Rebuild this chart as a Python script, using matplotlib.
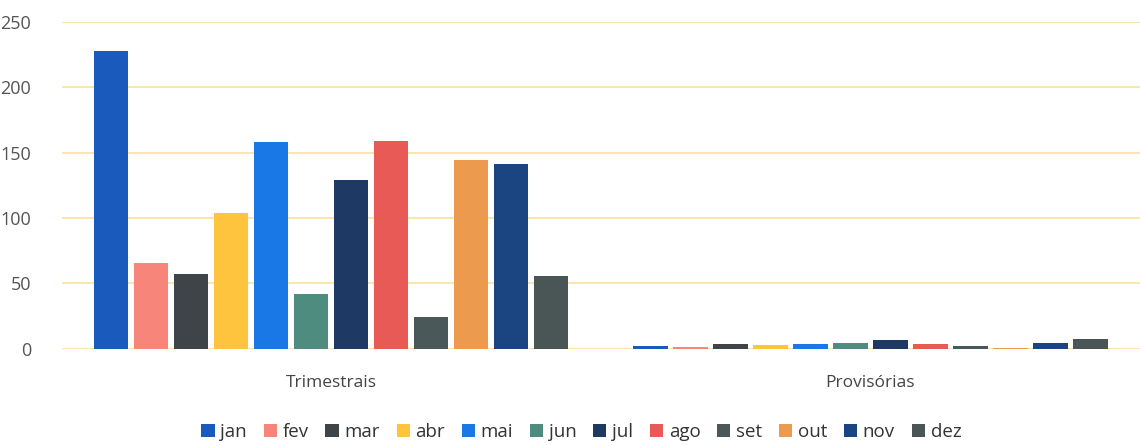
import numpy as np
import matplotlib
matplotlib.use("Agg")
import matplotlib.pyplot as plt

categorias = ['Trimestrais', 'Provisórias']
meses = ['jan', 'fev', 'mar', 'abr', 'mai', 'jun', 'jul', 'ago', 'set', 'out', 'nov', 'dez']
trimestrais = [228, 66, 57, 104, 158, 42, 129, 159, 24, 144, 141, 56]
provisorias = [2, 1.5, 4, 3, 4, 4.5, 7, 4, 2, 1, 4.5, 7.5]
cores = ['#1a5abd', '#f8857a', '#3e4447', '#ffc43d', '#1a78e6', '#4e8c7f',
         '#1e3a64', '#e85a56', '#4b5859', '#eb9a4e', '#1a4580', '#4a5555']

plt.rcParams['font.family'] = ['Open Sans', 'DejaVu Sans']

fig = plt.figure(figsize=(11.4, 4.45), dpi=100)
ax = fig.add_axes([0.054, 0.216, 0.946, 0.735])

x = np.arange(len(categorias))
grupo = 0.89
passo = grupo / len(meses)
for i, m in enumerate(meses):
    pos = x - grupo / 2 + passo * (i + 0.5)
    ax.bar(pos, [trimestrais[i], provisorias[i]], width=passo * 0.86,
           color=cores[i], label=m, zorder=3)

ax.set_xlim(-0.5, 1.5)
ax.set_ylim(0, 250)
ax.set_yticks([0, 50, 100, 150, 200, 250])
ax.grid(axis='y', color='#fbe0a0', linewidth=1.2, zorder=0)
for s in ax.spines.values():
    s.set_visible(False)
ax.tick_params(axis='y', length=0, colors='#555555', labelsize=13, pad=22)
ax.tick_params(axis='x', length=0, colors='#444444', labelsize=12.5, pad=19)
ax.set_xticks(x)
ax.set_xticklabels(categorias)

fig.legend(loc='lower center', bbox_to_anchor=(0.51, -0.03), ncol=12, frameon=False,
           fontsize=13.5, handlelength=0.7, handleheight=0.7, handletextpad=0.3,
           columnspacing=0.9, labelcolor='#333333')

fig.savefig('out.png', dpi=100)
